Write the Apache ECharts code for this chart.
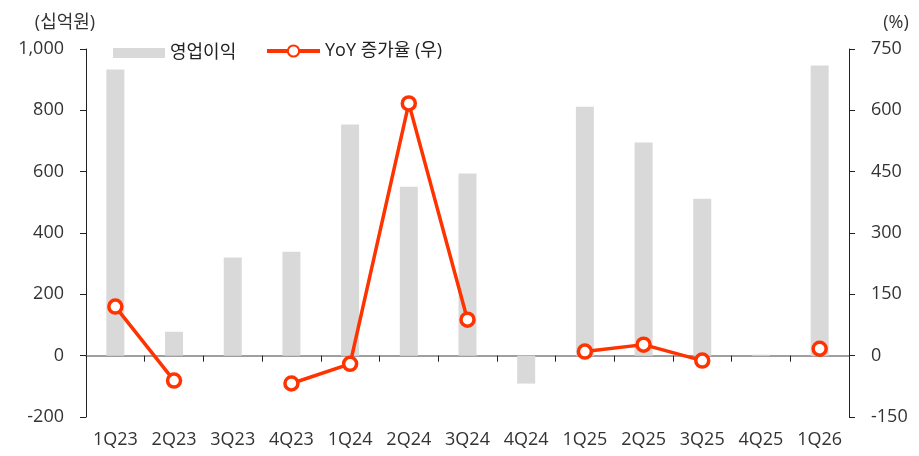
<!DOCTYPE html>
<html>
<head>
<meta charset="utf-8">
<script src="https://cdn.jsdelivr.net/npm/echarts@6/dist/echarts.min.js"></script>
<style>
    html, body { margin: 0; padding: 0; background: #fff; }
    #chart { width: 919px; height: 456px; }
</style>
</head>
<body>
<div id="chart"></div>
<script>
    var quarters = ['1Q23', '2Q23', '3Q23', '4Q23', '1Q24', '2Q24', '3Q24', '4Q24', '1Q25', '2Q25', '3Q25', '4Q25', '1Q26']
    // 영업이익 (십억원)
    var opProfit = [933, 78, 320, 339, 754, 551, 594, -91, 812, 695, 512, 3, 946]
    // YoY 증가율 (%)
    var yoyGrowth = [120, -61, null, -68, -20, 617, 88, null, 10, 27, -12, null, 17]

    var font = '"Open Sans", "Noto Sans CJK KR", sans-serif'
    var red = '#ff3300'

    var myChart = echarts.init(document.getElementById('chart'))
    var option = {
        animation: false,
        textStyle: { fontFamily: font },
        grid: { left: 86, right: 70, top: 49, bottom: 39 },
        legend: [
            {
                left: 108,
                top: 39,
                textStyle: { fontSize: 18, color: '#222', fontFamily: font },
                data: [{ name: '영업이익', icon: 'rect', itemStyle: { color: '#d9d9d9' } }],
                itemWidth: 52,
                itemHeight: 10,
                itemGap: 6
            },
            {
                left: 260,
                top: 37,
                textStyle: { fontSize: 18, color: '#222', fontFamily: font },
                data: [{ name: 'YoY 증가율 (우)', lineStyle: { width: 4 } }],
                itemWidth: 53,
                itemHeight: 14
            }
        ],
        xAxis: [
            {
                type: 'category',
                data: quarters,
                axisLine: { show: false, onZero: false },
                axisTick: { show: false },
                axisLabel: { fontSize: 18, color: '#333', margin: 14 }
            },
            {
                type: 'category',
                data: quarters,
                position: 'bottom',
                axisLine: { onZero: true, lineStyle: { color: '#808080', width: 1.5 } },
                axisTick: { show: true, length: 6, lineStyle: { color: '#222' } },
                axisLabel: { show: false }
            }
        ],
        yAxis: [
            {
                type: 'value',
                name: '(십억원)',
                nameLocation: 'end',
                nameGap: 17,
                nameTextStyle: { fontSize: 18, color: '#333', align: 'center', padding: [0, 42, 0, 0] },
                min: -200, max: 1000, interval: 200,
                axisLine: { show: true, lineStyle: { color: '#222' } },
                axisTick: { show: true, length: 6, lineStyle: { color: '#222' } },
                splitLine: { show: false },
                axisLabel: {
                    fontSize: 18, color: '#333', margin: 22,
                    formatter: function (v) { return v.toLocaleString('en-US') }
                }
            },
            {
                type: 'value',
                name: '(%)',
                nameLocation: 'end',
                nameGap: 17,
                nameTextStyle: { fontSize: 18, color: '#333', align: 'center', padding: [0, 0, 0, 94] },
                min: -150, max: 750, interval: 150,
                position: 'right',
                axisLine: { show: true, lineStyle: { color: '#222' } },
                axisTick: { show: true, length: 6, lineStyle: { color: '#222' } },
                splitLine: { show: false },
                axisLabel: { fontSize: 18, color: '#333', margin: 22 }
            }
        ],
        series: [
            {
                name: '영업이익',
                type: 'bar',
                data: opProfit,
                barWidth: 18,
                itemStyle: { color: '#d9d9d9' }
            },
            {
                name: 'YoY 증가율 (우)',
                type: 'line',
                yAxisIndex: 1,
                data: yoyGrowth,
                connectNulls: false,
                symbol: 'circle',
                symbolSize: 13,
                lineStyle: { color: red, width: 3.5 },
                itemStyle: { color: '#fff', borderColor: red, borderWidth: 3.5 }
            }
        ]
    }
    myChart.setOption(option)
</script>
</body>
</html>
